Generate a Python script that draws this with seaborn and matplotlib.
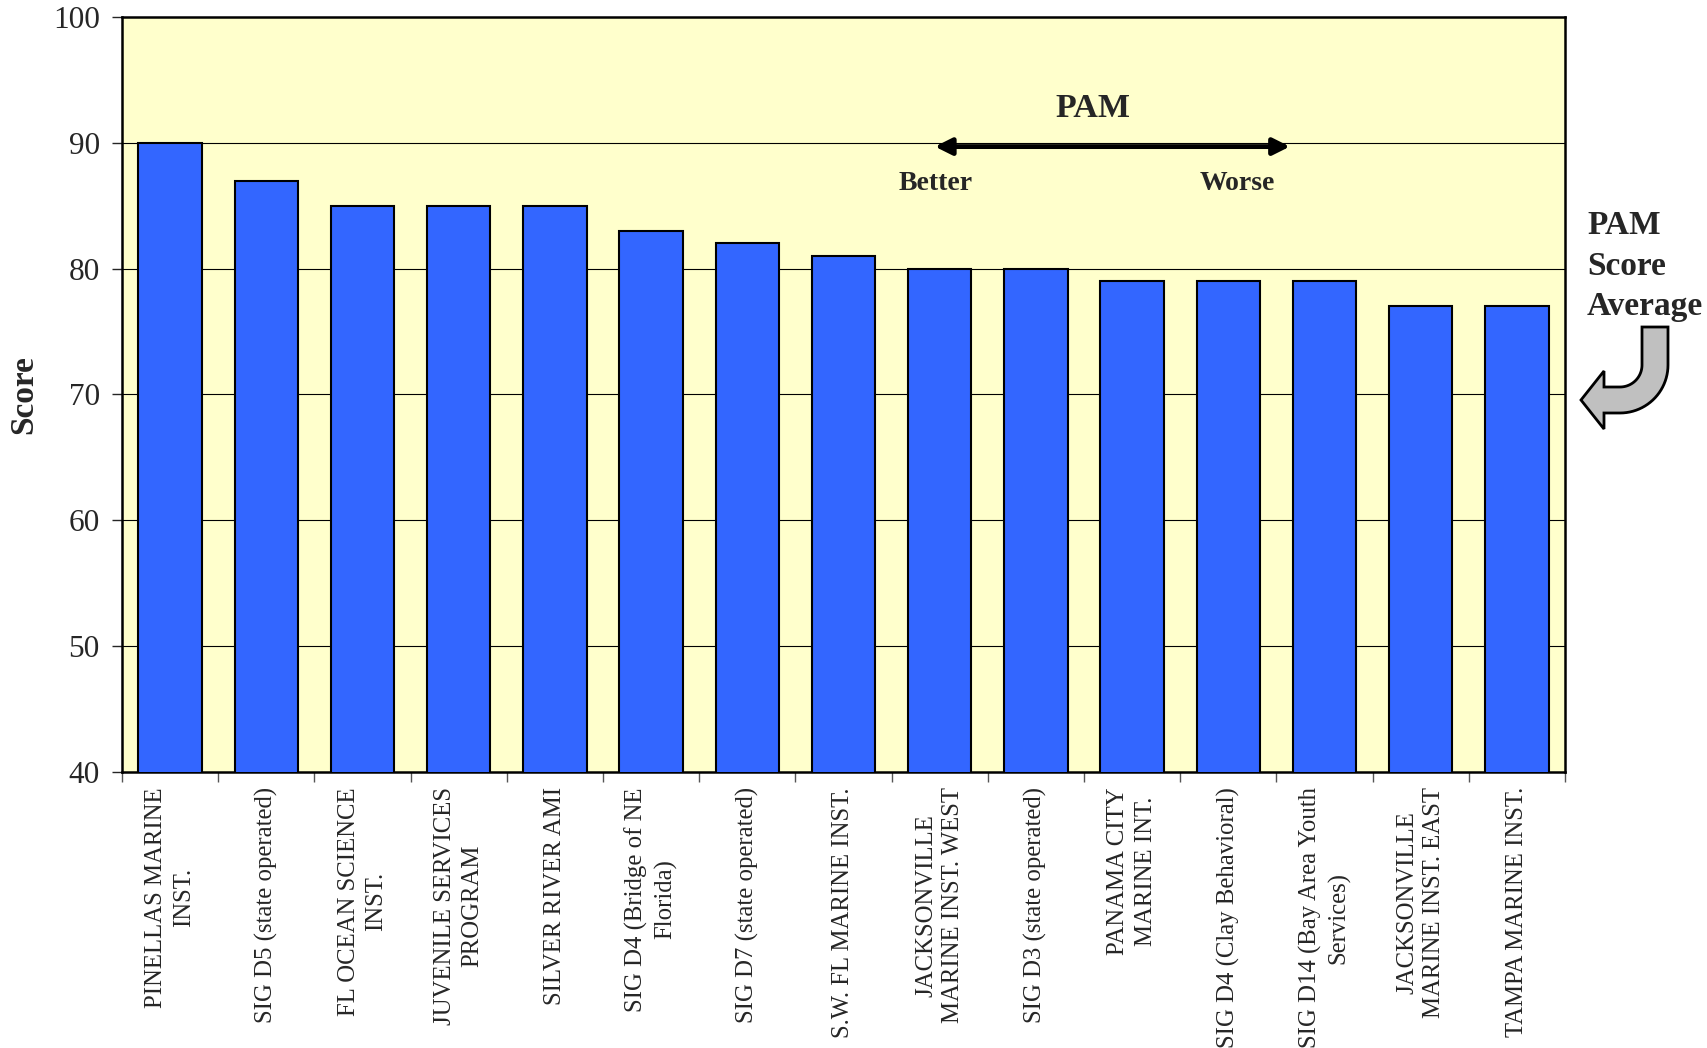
import matplotlib
matplotlib.use("Agg")
import matplotlib.pyplot as plt
import seaborn as sns
import pandas as pd
import numpy as np
from matplotlib.patches import Polygon

# --- DATI ---
programs = [
    "PINELLAS MARINE\nINST.",
    "SIG D5 (state operated)",
    "FL OCEAN SCIENCE\nINST.",
    "JUVENILE SERVICES\nPROGRAM",
    "SILVER RIVER AMI",
    "SIG D4 (Bridge of NE\nFlorida)",
    "SIG D7 (state operated)",
    "S.W. FL MARINE INST.",
    "JACKSONVILLE\nMARINE INST. WEST",
    "SIG D3 (state operated)",
    "PANAMA CITY\nMARINE INT.",
    "SIG D4 (Clay Behavioral)",
    "SIG D14 (Bay Area Youth\nServices)",
    "JACKSONVILLE\nMARINE INST. EAST",
    "TAMPA MARINE INST.",
]
scores = [90, 87, 85, 85, 85, 83, 82, 81, 80, 80, 79, 79, 79, 77, 77]
y_ticks = [40, 50, 60, 70, 80, 90, 100]

df = pd.DataFrame({"program": programs, "score": scores})

sns.set_style("ticks")
plt.rcParams['font.family'] = ['Liberation Serif', 'DejaVu Serif']

W, H = 1708, 1048
fig = plt.figure(figsize=(W / 100, H / 100), dpi=100)
ax = fig.add_axes([0.0714, 0.2634, 0.9163 - 0.0714, 0.9838 - 0.2634])
ax.set_facecolor("#FFFFCC")

sns.barplot(data=df, x="program", y="score", color="#3366FF", saturation=1,
            edgecolor="black", linewidth=1.5, width=0.66, ax=ax, zorder=3)

ax.set_ylim(40, 100)
ax.set_xlim(-0.5, len(programs) - 0.5)
ax.set_yticks(y_ticks)
for v in y_ticks[1:-1]:
    ax.axhline(v, color="black", linewidth=0.8, zorder=1)

# etichette al centro, tick sulle separazioni
ax.set_xticks(range(len(programs)))
ax.set_xticklabels(programs, rotation=90, ha="center", va="top",
                   multialignment="center", fontsize=17.8, linespacing=1.32)
ax.tick_params(axis="x", length=0, pad=11)
ax.set_xticks([i - 0.5 for i in range(len(programs) + 1)], minor=True)
ax.tick_params(axis="x", which="minor", length=7, width=1, color="#555555")
ax.tick_params(axis="y", labelsize=22.5, length=7, width=1, pad=9)

for s in ax.spines.values():
    s.set_linewidth(1.8)
    s.set_color("black")

ax.set_xlabel("")
ax.set_ylabel("Score", fontsize=24, fontweight="bold", labelpad=10)

# annotazione PAM
ax.annotate("", xy=(7.95, 89.7), xytext=(11.64, 89.7),
            arrowprops=dict(arrowstyle="<|-|>,head_length=1.0,head_width=0.5",
                            color="black", lw=3.5, shrinkA=0, shrinkB=0), zorder=5)
ax.text(9.59, 92.7, "PAM", fontsize=24.5, fontweight="bold", ha="center", va="center")
ax.text(7.96, 86.8, "Better", fontsize=20, fontweight="bold", ha="center", va="center")
ax.text(11.09, 86.8, "Worse", fontsize=20, fontweight="bold", ha="center", va="center")

# PAM Score Average a destra
fig.text(1587 / W, 1 - 210 / H, "PAM\nScore\nAverage", fontsize=24,
         fontweight="bold", ha="left", va="top", linespacing=1.4)

# freccia curva grigia (coordinate in pixel, y verso l'alto)
r, hw = 35, 13
cx, cy = 1655 - r, 648 + r
top = H - 327
pts = [(cx + r + hw, top)]
for a in np.linspace(0, -np.pi / 2, 24):
    pts.append((cx + (r + hw) * np.cos(a), cy + (r + hw) * np.sin(a)))
yc = cy - r
pts += [(1604, yc - hw), (1604, yc - 29), (1581, yc), (1604, yc + 29), (1604, yc + hw)]
for a in np.linspace(-np.pi / 2, 0, 24):
    pts.append((cx + (r - hw) * np.cos(a), cy + (r - hw) * np.sin(a)))
pts.append((cx + r - hw, top))
pts = [(x / W, y / H) for x, y in pts]
fig.patches.append(Polygon(pts, closed=True, transform=fig.transFigure,
                           facecolor="#C0C0C0", edgecolor="black", linewidth=2))

fig.savefig("out.png", dpi=100)
